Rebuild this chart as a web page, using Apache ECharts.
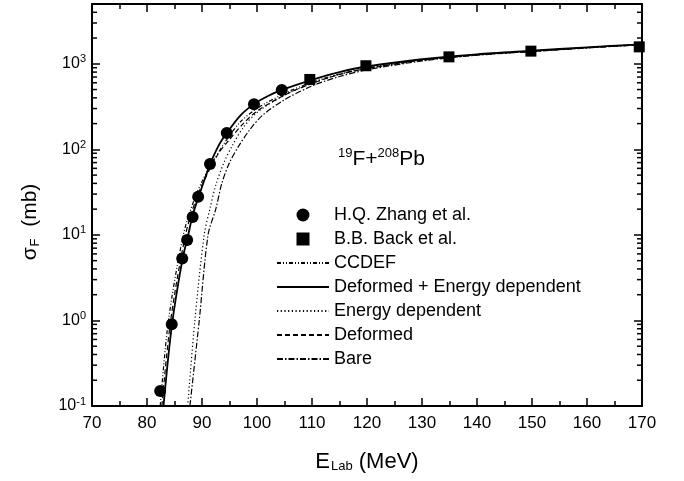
<!DOCTYPE html>
<html><head><meta charset="utf-8">
<script src="https://cdn.jsdelivr.net/npm/echarts@6/dist/echarts.min.js"></script>
<style>html,body{margin:0;padding:0;background:#fff}#c{width:684px;height:481px}</style>
</head><body><div id="c"></div>
<script>
// Experimental data
const zhangE = [82.4, 84.5, 86.4, 87.3, 88.3, 89.3, 91.45, 94.5, 99.45, 104.5];
const zhangS = [0.15, 0.9, 5.3, 8.7, 16.2, 27.9, 67.5, 155, 336, 494];
const backE = [109.6, 119.8, 134.9, 149.8, 169.5];
const backS = [656, 949, 1205, 1406, 1578];
// Theoretical curves
const ccdefE = [82.4, 83.9, 86.6, 88.5, 90, 92, 94.5, 97, 100, 105, 110, 115, 120, 130, 140, 150, 160, 170];
const ccdefS = [0.1, 1, 10, 25, 42, 72, 130, 210, 300, 450, 610, 760, 890, 1110, 1280, 1410, 1550, 1680];
const defEdE = [83.0, 84.5, 86.4, 87.5, 88.3, 89.4, 90.5, 91.5, 93, 94.5, 97, 99.5, 102, 104.5, 110, 115, 120, 130, 140, 150, 160, 170];
const defEdS = [0.1, 0.85, 5, 10, 17, 28, 45, 68, 110, 155, 250, 340, 420, 495, 650, 800, 930, 1130, 1290, 1420, 1560, 1690];
const edE = [87.4, 88.7, 90.4, 91.5, 92.6, 94, 95.5, 97.5, 100, 105, 110, 115, 120, 130, 140, 150, 160, 170];
const edS = [0.1, 1, 10, 21, 40, 70, 110, 180, 270, 430, 590, 750, 880, 1100, 1270, 1410, 1550, 1690];
const defE = [82.7, 84.3, 87.0, 89, 91, 93, 95, 97.5, 100, 105, 110, 115, 120, 130, 140, 150, 160, 170];
const defS = [0.1, 1, 10, 27, 52, 90, 130, 200, 280, 430, 590, 750, 880, 1100, 1270, 1400, 1540, 1680];
const bareE = [87.8, 89.5, 91.1, 92.5, 93.6, 95, 96.7, 98.7, 101, 105, 110, 115, 120, 130, 140, 150, 160, 170];
const bareS = [0.1, 1, 10, 20, 40, 70, 110, 170, 250, 380, 550, 710, 850, 1080, 1260, 1390, 1530, 1670];
// Axis ticks
const xMin = 70, xMax = 170, xStep = 10;
const yMin = 0.1, yMax = 5000;
const yMinorTicks = [0.2,0.3,0.4,0.5,0.6,0.7,0.8,0.9,2,3,4,5,6,7,8,9,20,30,40,50,60,70,80,90,200,300,400,500,600,700,800,900,2000,3000,4000];

const pair = (a, b) => a.map((v, i) => [v, b[i]]);
const FONT = 'Liberation Sans, Arial, Helvetica, sans-serif';
const chart = echarts.init(document.getElementById('c'));

function lineSeries(name, E, S, type, width) {
  return { name, type: 'line', data: pair(E, S), symbol: 'none', smooth: 0.3,
    lineStyle: { color: '#000', width: width || 1.2, type }, itemStyle: { color: '#000' }, z: 3 };
}
const hideSym = { opacity: 0 };

chart.setOption({
  animation: false,
  backgroundColor: '#fff',
  grid: { left: 92, right: 42, top: 4, bottom: 75, containLabel: false },
  title: {
    text: '{s|19}{b|F+}{s|208}{b|Pb}', left: 333, top: 141,
    textStyle: { fontWeight: 'normal', rich: {
      b: { fontFamily: FONT, fontSize: 21, fontWeight: 'normal', color: '#000', lineHeight: 26 },
      s: { fontFamily: FONT, fontSize: 13, fontWeight: 'normal', color: '#000', padding: [0, 0, 12, 0] } } }
  },
  legend: {
    orient: 'vertical', left: 271, top: 201, itemWidth: 52, itemHeight: 13, itemGap: 6,
    data: [
      { name: 'H.Q. Zhang et al.', icon: 'circle' },
      { name: 'B.B. Back et al.', icon: 'path://M0,0H10V10H0Z' },
      { name: 'CCDEF', itemStyle: hideSym },
      { name: 'Deformed + Energy dependent', itemStyle: hideSym },
      { name: 'Energy dependent', itemStyle: hideSym },
      { name: 'Deformed', itemStyle: hideSym },
      { name: 'Bare', itemStyle: hideSym }
    ],
    textStyle: { fontFamily: FONT, fontSize: 18, color: '#000' },
    selectedMode: false
  },
  xAxis: [{
    type: 'value', min: xMin, max: xMax, interval: xStep, position: 'bottom',
    name: '{b|E}{s|Lab}{b| (MeV)}', nameLocation: 'middle', nameGap: 44,
    nameTextStyle: { rich: {
      b: { fontFamily: FONT, fontSize: 22, color: '#000' },
      s: { fontFamily: FONT, fontSize: 13, color: '#000', padding: [10, 0, 0, 1] } } },
    axisLine: { lineStyle: { color: '#000', width: 2 } },
    axisTick: { inside: true, length: 8, lineStyle: { color: '#000', width: 1.5 } },
    minorTick: { show: true, splitNumber: 2, length: 5, lineStyle: { color: '#000', width: 1.5 } },
    axisLabel: { fontFamily: FONT, fontSize: 17, color: '#000', margin: 9 },
    splitLine: { show: false }
  }, {
    type: 'value', min: xMin, max: xMax, interval: xStep, position: 'top',
    axisLine: { lineStyle: { color: '#000', width: 2 } },
    axisTick: { inside: true, length: 8, lineStyle: { color: '#000', width: 1.5 } },
    minorTick: { show: true, splitNumber: 2, length: 5, lineStyle: { color: '#000', width: 1.5 } },
    axisLabel: { show: false }, splitLine: { show: false }
  }],
  yAxis: [{
    type: 'log', logBase: 10, min: yMin, max: yMax, position: 'left',
    name: '{b|σ}{s|F}{b|  (mb)}', nameLocation: 'middle', nameGap: 50, nameRotate: 90,
    nameTextStyle: { padding: [0, 34, 0, 0], rich: {
      b: { fontFamily: FONT, fontSize: 21, color: '#000' },
      s: { fontFamily: FONT, fontSize: 13, color: '#000', padding: [10, 0, 0, 1] } } },
    axisLine: { lineStyle: { color: '#000', width: 2 } },
    axisTick: { inside: true, length: 8, lineStyle: { color: '#000', width: 1.5 } },
    axisLabel: { showMaxLabel: false, margin: 6, fontFamily: FONT,
      formatter: v => '{b|10}{e|' + Math.round(Math.log10(v)) + '}',
      rich: { b: { fontFamily: FONT, fontSize: 16, color: '#000' },
              e: { fontFamily: FONT, fontSize: 11, color: '#000', padding: [0, 0, 9, 0] } } },
    splitLine: { show: false }
  }, {
    type: 'log', logBase: 10, min: yMin, max: yMax, position: 'right',
    axisLine: { lineStyle: { color: '#000', width: 2 } },
    axisTick: { inside: true, length: 8, lineStyle: { color: '#000', width: 1.5 } },
    axisLabel: { show: false }, splitLine: { show: false }
  }],
  series: [
    { name: 'H.Q. Zhang et al.', type: 'scatter', data: pair(zhangE, zhangS), symbol: 'circle', symbolSize: 12,
      itemStyle: { color: '#000', opacity: 1 }, z: 5 },
    { name: 'B.B. Back et al.', type: 'scatter', data: pair(backE, backS), symbol: 'rect', symbolSize: 11,
      itemStyle: { color: '#000', opacity: 1 }, z: 5 },
    lineSeries('CCDEF', ccdefE, ccdefS, [4, 2, 1, 2, 1, 2], 1.2),
    lineSeries('Deformed + Energy dependent', defEdE, defEdS, 'solid', 1.8),
    lineSeries('Energy dependent', edE, edS, [1.2, 2.5], 1.2),
    lineSeries('Deformed', defE, defS, [5, 3], 1.2),
    lineSeries('Bare', bareE, bareS, [6, 2, 1.5, 2], 1.2),
    { type: 'custom', name: 'minorTicks', silent: true, clip: false, z: 6,
      data: yMinorTicks.map(v => [xMin, v]),
      renderItem: (params, api) => {
        const v = api.value(1);
        const pl = api.coord([xMin, v]);
        const pr = api.coord([xMax, v]);
        return { type: 'group', children: [
          { type: 'line', shape: { x1: pl[0], y1: pl[1], x2: pl[0] + 5, y2: pl[1] }, style: { stroke: '#000', lineWidth: 1.5 } },
          { type: 'line', shape: { x1: pr[0], y1: pr[1], x2: pr[0] - 5, y2: pr[1] }, style: { stroke: '#000', lineWidth: 1.5 } }
        ] };
      } }
  ]
});
</script></body></html>
